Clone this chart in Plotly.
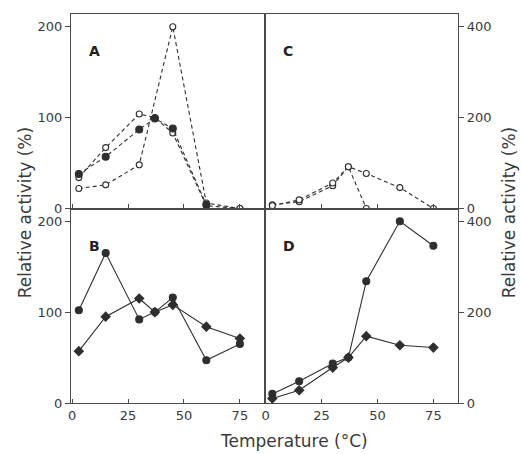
import plotly.graph_objects as go
from plotly.subplots import make_subplots

# Temperatures (°C)
a_filled_t = [3, 15, 30, 37, 45, 60]
a_open1_t = [3, 15, 30, 37, 45, 60, 75]
a_open2_t = [3, 15, 30, 45, 60, 75]
b_t = [3, 15, 30, 37, 45, 60, 75]
c_s1_t = [3, 15, 30, 37, 45]
c_s2_t = [3, 15, 30, 37, 45, 60, 75]
d_t = [3, 15, 30, 37, 45, 60, 75]

# Relative activity (%)
a_filled = [38, 57, 87, 99, 88, 4]
a_open1 = [34, 67, 104, 100, 83, 3, 0]
a_open2 = [22, 26, 48, 200, 6, 0]

b_s1 = [102, 165, 92, 100, 116, 47, 65]
b_s2 = [57, 95, 115, 100, 108, 84, 71]

c_s1 = [8, 15, 50, 92, 0]
c_s2 = [6, 19, 56, 92, 77, 46, 0]

d_s1 = [20, 48, 87, 100, 268, 400, 346]
d_s2 = [10, 28, 78, 100, 147, 127, 122]

left_ticks = [0, 100, 200]
right_ticks = [0, 200, 400]
x_ticks = [0, 25, 50, 75]
panel_names = ["A", "C", "B", "D"]

INK = "#2e2e2e"
FONT = "DejaVu Sans"
DASH = "4px,3px"

fig = make_subplots(rows=2, cols=2, horizontal_spacing=0, vertical_spacing=0)


def add_series(t, y, row, col, symbol, filled, dash):
    fig.add_trace(
        go.Scatter(
            x=t, y=y, mode="lines+markers",
            line=dict(color=INK, width=1.1, dash=dash),
            marker=dict(symbol=symbol, size=7 if filled else 6,
                        color=INK if filled else "white",
                        line=dict(color=INK, width=1.1)),
            showlegend=False,
        ),
        row=row, col=col,
    )


# A
add_series(a_open2_t, a_open2, 1, 1, "circle", False, DASH)
add_series(a_open1_t, a_open1, 1, 1, "circle", False, DASH)
add_series(a_filled_t, a_filled, 1, 1, "circle", True, DASH)
# C
add_series(c_s1_t, c_s1, 1, 2, "circle", False, DASH)
add_series(c_s2_t, c_s2, 1, 2, "circle", False, DASH)
# B
add_series(b_t, b_s1, 2, 1, "circle", True, "solid")
add_series(b_t, b_s2, 2, 1, "diamond", True, "solid")
# D
add_series(d_t, d_s1, 2, 2, "circle", True, "solid")
add_series(d_t, d_s2, 2, 2, "diamond", True, "solid")

axis_common = dict(showline=True, linecolor="#4a4a4a", linewidth=1.3, mirror=True,
                   showgrid=False, zeroline=False,
                   tickfont=dict(family=FONT, size=13, color="#3a3a3a"),
                   tickcolor="#4a4a4a")

for r in (1, 2):
    for c in (1, 2):
        fig.update_xaxes(range=[-0.5, 86], tickvals=x_ticks, ticks="inside", ticklen=4,
                         showticklabels=(r == 2), row=r, col=c, **axis_common)
    fig.update_yaxes(range=[0, 214], tickvals=left_ticks, ticks="outside", ticklen=5,
                     row=r, col=1, **axis_common)
    fig.update_yaxes(range=[0, 428], tickvals=right_ticks, ticks="outside", ticklen=5,
                     side="right", row=r, col=2, **axis_common)

# Panel letters
refs = [("x", "y"), ("x2", "y2"), ("x3", "y3"), ("x4", "y4")]
for name, (xr, yr) in zip(panel_names, refs):
    fig.add_annotation(text="<b>%s</b>" % name, xref=xr + " domain", yref=yr + " domain",
                       x=0.085, y=0.86, showarrow=False,
                       font=dict(family=FONT, size=14, color="#222"))

title_font = dict(family=FONT, size=17, color="#3a3a3a")
fig.add_annotation(text="Relative activity (%)", xref="paper", yref="paper",
                   x=-0.119, y=0.49, xanchor="center", yanchor="middle",
                   textangle=-90, showarrow=False, font=title_font)
fig.add_annotation(text="Relative activity (%)", xref="paper", yref="paper",
                   x=1.134, y=0.49, xanchor="center", yanchor="middle",
                   textangle=-90, showarrow=False, font=title_font)
fig.add_annotation(text="Temperature (°C)", xref="paper", yref="paper",
                   x=0.576, y=-0.098, xanchor="center", yanchor="middle",
                   showarrow=False, font=title_font)

fig.update_layout(
    width=521, height=454,
    margin=dict(l=71, r=63, t=14, b=51),
    paper_bgcolor="white", plot_bgcolor="white",
    font=dict(family=FONT),
)

fig.write_html("out.html", config={"displayModeBar": False})
